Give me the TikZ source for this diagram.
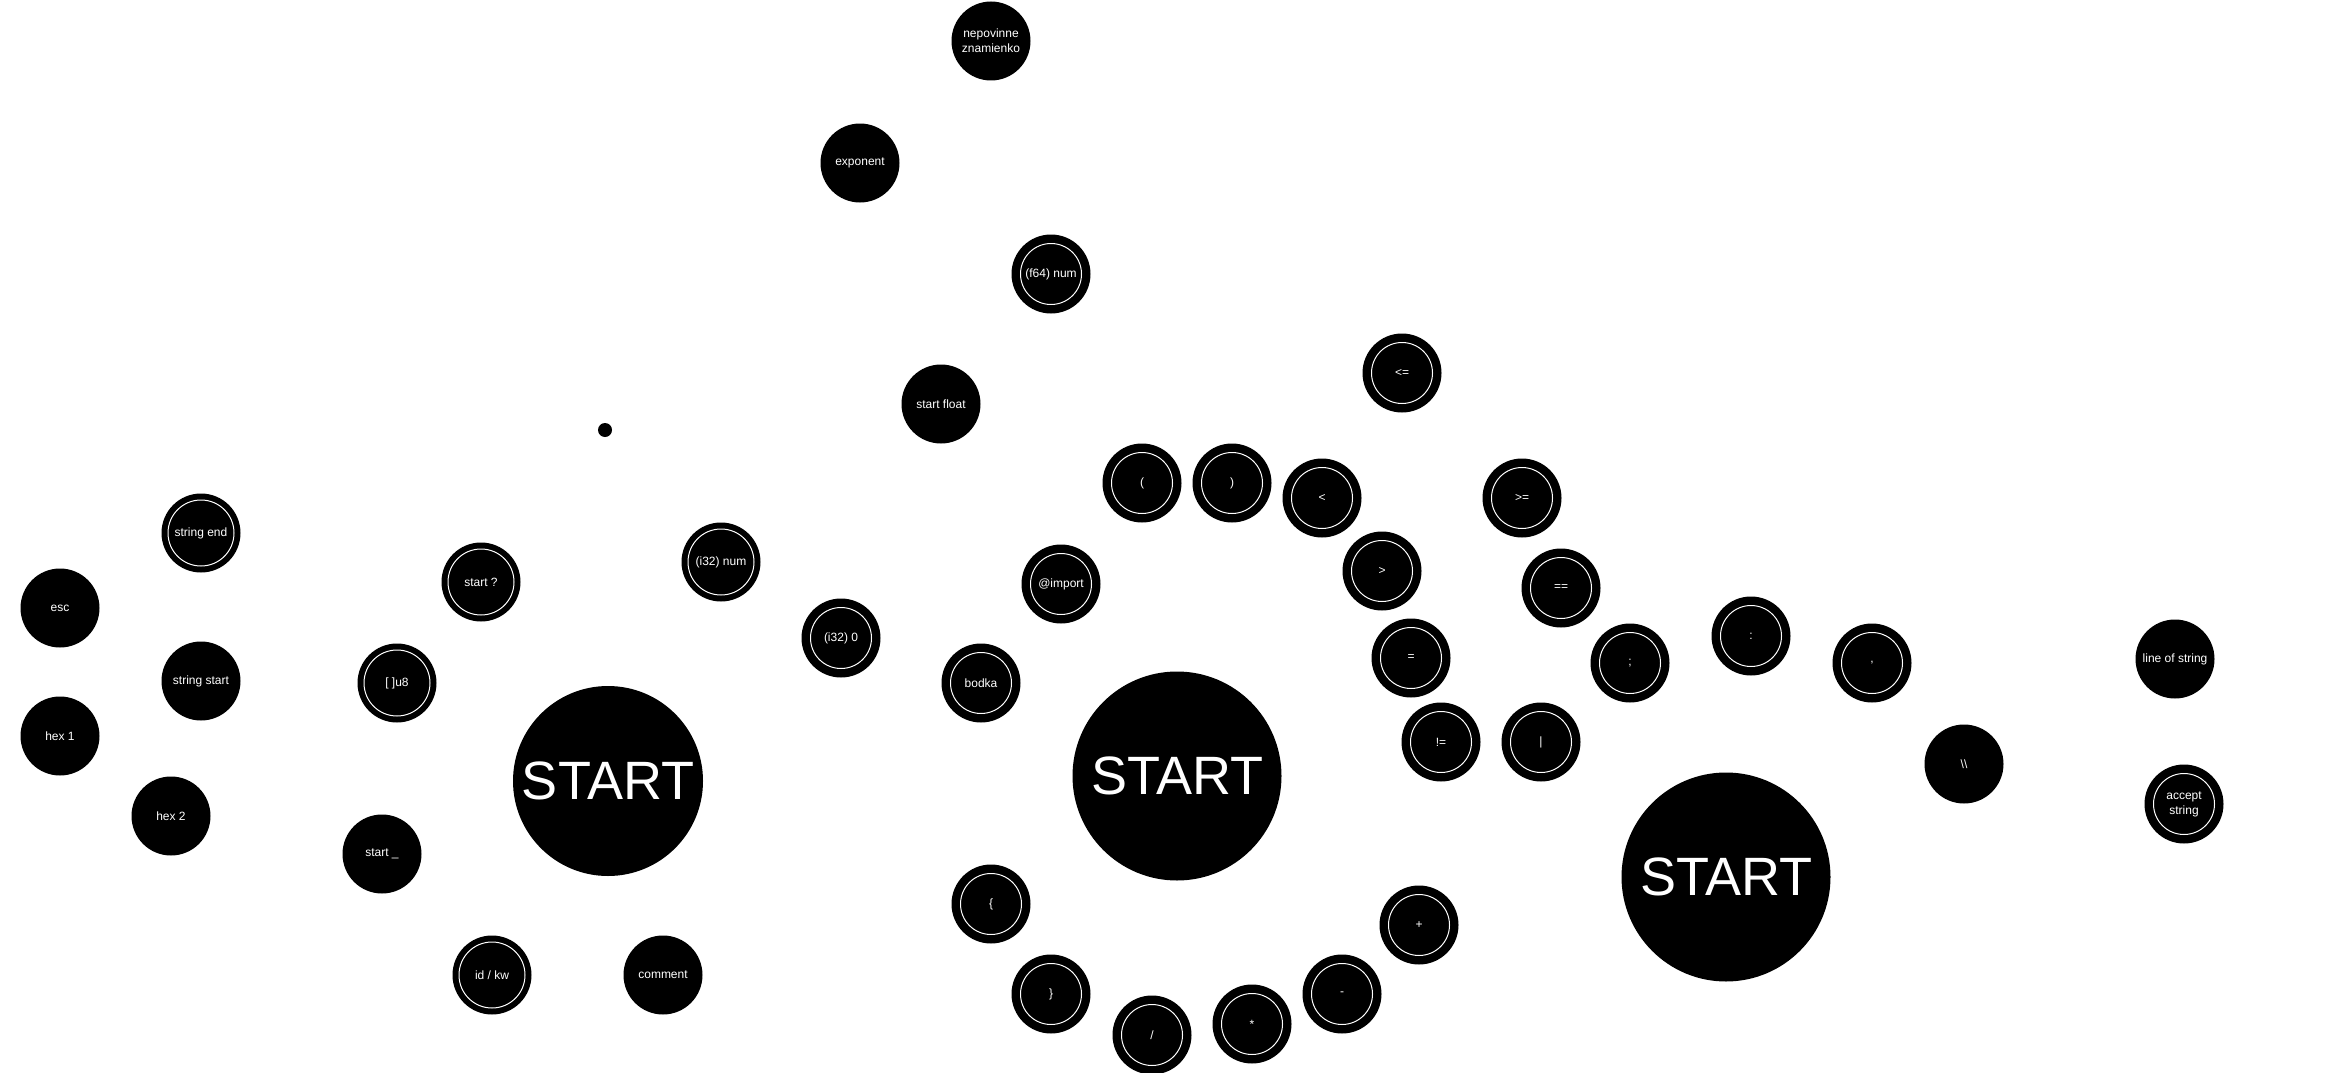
\documentclass[tikz,border=0pt]{standalone}
\usepackage{fontspec}
\setmainfont{Liberation Sans}
\usepackage{tikz}
\usetikzlibrary{shapes.geometric}
\usetikzlibrary{positioning}
\tikzset{
  state/.style={circle,fill=black,text=white,minimum size=79pt,inner sep=0pt,align=center,font=\fontsize{12}{15}\selectfont},
  acc/.style={state,path picture={\draw[white,line width=1pt] (path picture bounding box.center) circle[radius=#1];}},
  acc/.default=30.5,
  begin/.style={circle,fill=black,text=white,minimum size=#1,inner sep=0pt,font=\fontsize{54}{62}\selectfont},
  begin/.default=209pt
}

\begin{document}
\begin{tikzpicture}[x=1pt,y=-1pt]
\useasboundingbox (0,0) rectangle (2330,1073);
\fill[black] (605,430) circle[radius=7];
\node[begin=190pt] (startA) at (608,781) {START};
\node[acc=33] (strEnd) at (201,533) {string end};
\node[state] (esc) at (60,608) {esc};
\node[state] (strStart) at (201,681) {string start};
\node[state] (hexA) at (60,736) {hex 1};
\node[state] (hexB) at (171,816) {hex 2};
\node[acc=33] (startQ) at (481,582) {start ?};
\node[acc=33] (arrU) at (397,683) {[ ]u8};
\node[state] (startU) at (382,854) {start \_};
\node[acc=33] (idkw) at (492,975) {id / kw};
\node[state] (comment) at (663,975) {comment};
\node[acc=33] (intNum) at (721,562) {(i32) num};
\node[acc] (intZero) at (841,638) {(i32) 0};
\node[state] (sign) at (991,41) {nepovinne\\znamienko};
\node[state] (expo) at (860,163) {exponent};
\node[acc] (fltNum) at (1051,274) {(f64) num};
\node[state] (fltStart) at (941,404) {start float};
\node[begin] (startB) at (1177,776) {START};
\node[acc] (import) at (1061,584) {@import};
\node[acc] (bodka) at (981,683) {bodka};
\node[acc] (lpar) at (1142,483) {(};
\node[acc] (rpar) at (1232,483) {)};
\node[acc] (lt) at (1322,498) {<};
\node[acc] (le) at (1402,373) {<=};
\node[acc] (gt) at (1382,571) {>};
\node[acc] (ge) at (1522,498) {>=};
\node[acc] (eqeq) at (1561,588) {==};
\node[acc] (assign) at (1411,658) {=};
\node[acc] (neq) at (1441,742) {!=};
\node[acc] (pipe) at (1541,742) {|};
\node[acc] (semi) at (1630,663) {;};
\node[acc] (colon) at (1751,636) {:};
\node[acc] (comma) at (1872,663) {,};
\node[acc] (lbr) at (991,904) {\{};
\node[acc] (rbr) at (1051,994) {\}};
\node[acc] (slash) at (1152,1035) {/};
\node[acc] (star) at (1252,1024) {*};
\node[acc] (minus) at (1342,994) {-};
\node[acc] (plus) at (1419,925) {+};
\node[begin] (startC) at (1726,877) {START};
\node[state] (bslash) at (1964,764) {\textbackslash\textbackslash};
\node[state] (strLine) at (2175,659) {line of string};
\node[acc] (strAcc) at (2184,804) {accept\\string};
\end{tikzpicture}
\end{document}
